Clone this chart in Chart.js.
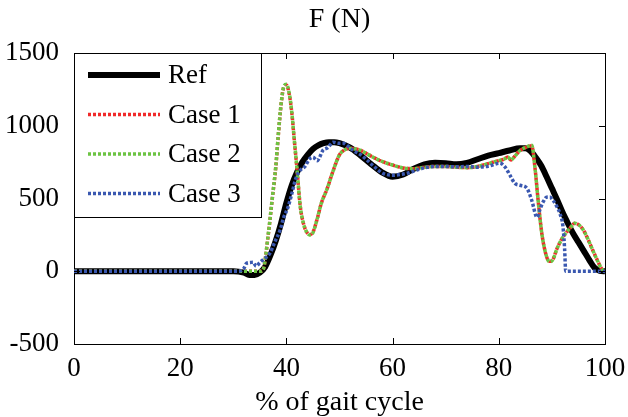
<!DOCTYPE html>
<html>
<head>
<meta charset="utf-8">
<script src="https://cdn.jsdelivr.net/npm/chart.js@4.4.1/dist/chart.umd.min.js"></script>
<style>
  html, body { margin: 0; padding: 0; background: #fff; }
  #wrap { width: 628px; height: 417px; }
</style>
</head>
<body>
<div id="wrap"><canvas id="c" width="628" height="417"></canvas></div>
<script>
// values (x = % of gait cycle, y = force in N)
const refX = [0, 30, 32, 33, 34, 35, 36, 37, 38, 39, 40, 41, 42, 43, 44, 45, 46, 47, 48, 49, 50, 52, 54, 56, 58, 60, 62, 64, 66, 68, 70, 72, 74, 76, 78, 80, 82, 84, 85, 86, 87, 88, 89, 90, 91, 92, 93, 94, 95, 96, 97, 98, 99, 100];
const refF = [0, 0, -10, -25, -25, -10, 30, 110, 210, 330, 470, 590, 680, 750, 800, 840, 865, 880, 887, 887, 880, 850, 795, 735, 680, 650, 665, 705, 735, 745, 742, 735, 745, 770, 795, 812, 830, 845, 845, 825, 780, 725, 650, 570, 490, 405, 330, 260, 200, 140, 80, 25, 3, 0];

const case1X = [0, 35, 35.6, 36.6, 37.3, 38, 38.5, 39, 39.5, 40, 40.5, 41, 41.5, 42, 42.6, 43.2, 43.8, 44.4, 45, 45.8, 46.6, 47.6, 48.8, 50, 51, 52, 53, 54, 56, 58, 60, 62, 64, 66, 68, 70, 72, 74, 76, 78, 80, 81, 81.7, 82.3, 83, 84, 85, 86.2, 86.8, 87.4, 88.1, 89, 89.6, 90.2, 90.9, 92, 92.8, 93.5, 94.3, 95, 95.9, 96.8, 97.7, 98.5, 99.4, 100];
const case1F = [0, 0, 10, 255, 485, 715, 945, 1145, 1265, 1280, 1225, 1095, 895, 700, 450, 330, 270, 252, 268, 360, 470, 560, 690, 800, 835, 845, 840, 830, 790, 755, 730, 710, 705, 715, 720, 720, 715, 712, 720, 740, 760, 770, 785, 765, 790, 830, 850, 862, 715, 490, 260, 100, 68, 82, 150, 230, 270, 300, 330, 320, 285, 220, 144, 80, 15, 0];

const case2X = [0, 35, 35.6, 36.6, 37.3, 38, 38.5, 39, 39.5, 40, 40.5, 41, 41.5, 42, 42.6, 43.2, 43.8, 44.4, 45, 45.8, 46.6, 47.6, 48.8, 50, 51, 52, 53, 54, 56, 58, 60, 62, 64, 66, 68, 70, 72, 74, 76, 78, 80, 81, 81.7, 82.3, 83, 84, 85, 86.2, 86.8, 87.4, 88.1, 89, 89.6, 90.2, 90.9, 92, 92.8, 93.5, 94.3, 95, 95.9, 96.8, 97.7, 98.5, 99.4, 100];
const case2F = [0, 0, 10, 260, 490, 720, 950, 1150, 1270, 1285, 1230, 1100, 900, 700, 450, 330, 270, 250, 265, 360, 470, 560, 690, 800, 835, 845, 840, 830, 790, 755, 730, 710, 705, 715, 720, 720, 715, 712, 720, 740, 760, 770, 785, 765, 790, 830, 850, 866, 715, 490, 260, 100, 65, 80, 150, 230, 270, 300, 330, 320, 285, 220, 144, 80, 15, 0];

const case3X = [0, 31, 32, 32.5, 33.2, 33.7, 34.3, 35, 36, 36.9, 37.8, 38.8, 39.5, 40.3, 41, 41.8, 42.6, 43.5, 44.3, 45, 45.8, 46.9, 47.8, 48.8, 49.8, 50.7, 51.6, 52.5, 54, 55.2, 56.5, 58.2, 60.1, 61.5, 62.7, 64.5, 66.5, 68, 70, 72, 74, 76, 78, 80.2, 81.2, 82.1, 83, 84, 85.3, 86.2, 87.2, 87.8, 88.4, 89, 89.6, 90.2, 91, 91.5, 92.1, 92.4, 92.6, 100];
const case3F = [0, 0, 20, 55, 60, 62, 35, 60, 90, 124, 200, 282, 370, 440, 530, 640, 694, 720, 770, 784, 760, 832, 850, 887, 880, 880, 860, 832, 800, 763, 720, 673, 660, 665, 673, 695, 715, 720, 720, 718, 720, 715, 722, 742, 715, 660, 605, 591, 570, 488, 371, 430, 480, 509, 510, 488, 440, 398, 302, 150, 0, 0];

const xTicks = [0, 20, 40, 60, 80, 100];
const yTicks = [-500, 0, 500, 1000, 1500];
const seriesNames = ['Ref', 'Case 1', 'Case 2', 'Case 3'];

const FONT = '"Liberation Serif", "Times New Roman", serif';
const COLORS = ['#000000', '#f02a2a', '#6cc443', '#3a58b0'];

function pts(xs, ys) {
  return xs.map((x, i) => ({ x, y: ys[i] }));
}

function lineDs(i, data) {
  const isRef = i === 0;
  return {
    label: seriesNames[i],
    data,
    borderColor: COLORS[i],
    backgroundColor: COLORS[i],
    borderWidth: isRef ? 6 : 3.5,
    borderDash: isRef ? [] : [3, 2],
    borderCapStyle: 'butt',
    pointRadius: 0,
    cubicInterpolationMode: 'monotone',
    order: 4 - i,
  };
}

// ticks point inward on all four sides, like the original plot
const innerTicks = {
  id: 'innerTicks',
  afterDatasetsDraw(chart) {
    const { ctx, chartArea: a, scales } = chart;
    const len = 6;
    ctx.save();
    ctx.strokeStyle = '#000';
    ctx.lineWidth = 1;
    ctx.beginPath();
    for (const v of xTicks) {
      const px = Math.round(scales.x.getPixelForValue(v)) + 0.5;
      if (v === xTicks[0] || v === xTicks[xTicks.length - 1]) continue;
      ctx.moveTo(px, a.bottom); ctx.lineTo(px, a.bottom - len);
      ctx.moveTo(px, a.top); ctx.lineTo(px, a.top + len);
    }
    for (const v of yTicks) {
      const py = Math.round(scales.y.getPixelForValue(v)) + 0.5;
      if (v === yTicks[0] || v === yTicks[yTicks.length - 1]) continue;
      ctx.moveTo(a.left, py); ctx.lineTo(a.left + len, py);
      ctx.moveTo(a.right, py); ctx.lineTo(a.right - len, py);
    }
    ctx.stroke();
    ctx.restore();
  },
};

// boxed legend in the upper-left corner of the plot
const boxLegend = {
  id: 'boxLegend',
  afterDraw(chart) {
    const { ctx, chartArea: a } = chart;
    const w = 187, h = 164;
    const x0 = a.left, y0 = a.top;
    ctx.save();
    ctx.fillStyle = '#fff';
    ctx.fillRect(x0, y0, w, h);
    ctx.strokeStyle = '#000';
    ctx.lineWidth = 1;
    ctx.strokeRect(x0 + 0.5, y0 + 0.5, w, h);
    ctx.font = '27px ' + FONT;
    ctx.textBaseline = 'middle';
    ctx.textAlign = 'left';
    chart.data.datasets.forEach((ds, i) => {
      const y = y0 + 22 + i * 39.5;
      ctx.beginPath();
      ctx.strokeStyle = ds.borderColor;
      ctx.lineWidth = ds.borderWidth;
      ctx.setLineDash(ds.borderDash);
      ctx.lineCap = 'butt';
      ctx.moveTo(x0 + 14, y);
      ctx.lineTo(x0 + 86, y);
      ctx.stroke();
      ctx.setLineDash([]);
      ctx.fillStyle = '#000';
      ctx.fillText(ds.label, x0 + 94, y + 1);
    });
    ctx.restore();
  },
};

const tickFont = { family: FONT, size: 27 };
const blackBorder = { display: true, color: '#000', width: 1 };
const plain = (v) => String(v);

function draw() {
  new Chart(document.getElementById('c'), {
    type: 'line',
    data: {
      datasets: [
        lineDs(0, pts(refX, refF)),
        lineDs(1, pts(case1X, case1F)),
        lineDs(2, pts(case2X, case2F)),
        lineDs(3, pts(case3X, case3F)),
      ],
    },
    options: {
      responsive: false,
      animation: false,
      devicePixelRatio: 1,
      layout: { padding: 0 },
      plugins: {
        legend: { display: false },
        title: { display: false },
        tooltip: { enabled: false },
      },
      scales: {
        x: {
          type: 'linear',
          position: 'bottom',
          min: 0,
          max: 100,
          afterBuildTicks: (s) => { s.ticks = xTicks.map((v) => ({ value: v })); },
          ticks: { font: tickFont, color: '#000', padding: 1, maxRotation: 0, callback: plain },
          grid: { display: false },
          border: blackBorder,
          title: {
            display: true,
            text: '% of gait cycle',
            color: '#000',
            font: { family: FONT, size: 28, lineHeight: 1 },
            padding: 0,
          },
          afterFit: (s) => { s.height = 73; },
        },
        x2: {
          type: 'linear',
          position: 'top',
          min: 0,
          max: 100,
          ticks: { display: false },
          grid: { display: false },
          border: blackBorder,
          title: {
            display: true,
            text: 'F (N)',
            color: '#000',
            font: { family: FONT, size: 28, lineHeight: 1.2 },
            padding: { top: 3, bottom: 0 },
          },
          afterFit: (s) => { s.height = 53; },
        },
        y: {
          type: 'linear',
          position: 'left',
          min: -500,
          max: 1500,
          afterBuildTicks: (s) => { s.ticks = yTicks.map((v) => ({ value: v })); },
          ticks: { font: tickFont, color: '#000', padding: 7, callback: plain },
          grid: { display: false },
          border: blackBorder,
          afterFit: (s) => { s.width = 74; },
        },
        y2: {
          type: 'linear',
          position: 'right',
          min: -500,
          max: 1500,
          ticks: { display: false },
          grid: { display: false },
          border: blackBorder,
          afterFit: (s) => { s.width = 23; },
        },
      },
    },
    plugins: [innerTicks, boxLegend],
  });
}

if (document.fonts && document.fonts.load) {
  document.fonts.load('27px "Liberation Serif"').then(draw, draw);
} else {
  draw();
}
</script>
</body>
</html>
